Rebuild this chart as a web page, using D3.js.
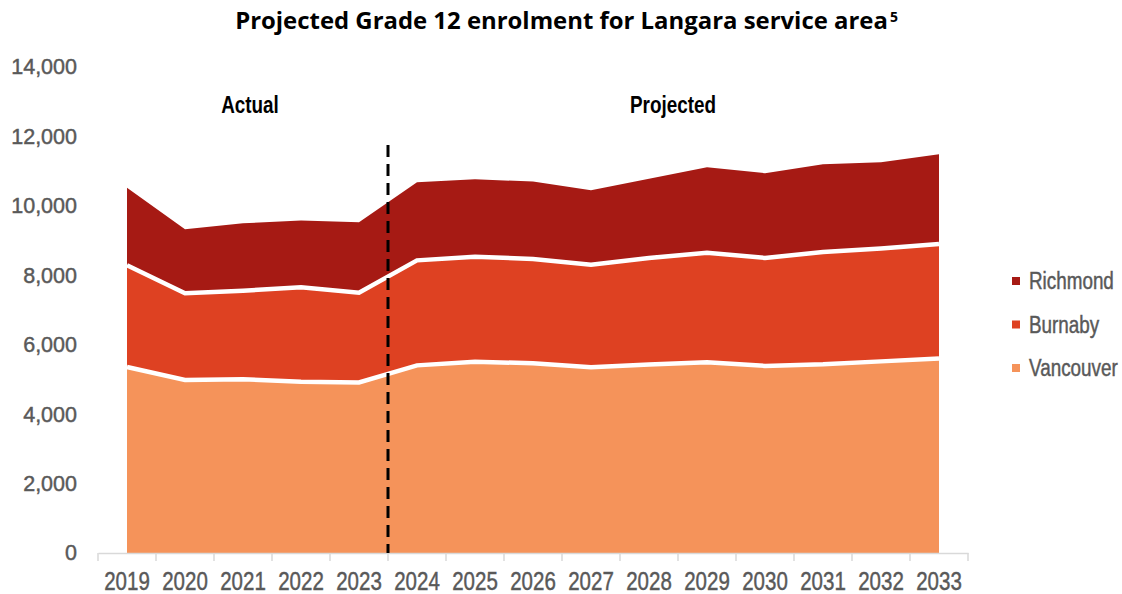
<!DOCTYPE html>
<html><head><meta charset="utf-8">
<script src="https://cdn.jsdelivr.net/npm/d3@7"></script>
<style>
body{margin:0;background:#fff;}
svg{display:block;}
</style></head>
<body>
<svg id="chart" width="1122" height="594"></svg>
<script>
const years = ["2019","2020","2021","2022","2023","2024","2025","2026","2027","2028","2029","2030","2031","2032","2033"];
const vancouver = [5360, 4985, 5005, 4935, 4915, 5405, 5510, 5465, 5350, 5430, 5495, 5390, 5435, 5520, 5600];
const burnaby   = [2930, 2495, 2550, 2720, 2585, 3025, 3025, 3005, 2955, 3070, 3155, 3110, 3235, 3255, 3300];
const richmond  = [2230, 1845, 1945, 1920, 2025, 2250, 2230, 2230, 2145, 2280, 2460, 2440, 2525, 2480, 2585];
const seriesNames = ["Vancouver","Burnaby","Richmond"];
const seriesColors = ["#F5935A","#DE4122","#A61A14"];
const yTicks = [0,2000,4000,6000,8000,10000,12000,14000];
const splitAfter = "2023";

const sans = "'Liberation Sans',Arial,sans-serif";
const titleFont = "'Open Sans',Roboto,sans-serif";
const NARROW = 0.82; // Arial Narrow ≈ Arial scaled horizontally
const svg = d3.select("#chart");

const rows = years.map((y,i)=>({year:y, Vancouver:vancouver[i], Burnaby:burnaby[i], Richmond:richmond[i]}));
const stack = d3.stack().keys(seriesNames)(rows);

const x = d3.scaleBand().domain(years).range([98,968]);
const xc = d => x(d) + x.bandwidth()/2;
const y = d3.scaleLinear().domain([0,14000]).range([553,67]);

// areas
const area = d3.area().x(d=>xc(d.data.year)).y0(d=>y(d[0])).y1(d=>y(d[1]));
svg.append("g").selectAll("path").data(stack).join("path")
  .attr("d", area).attr("fill",(d,i)=>seriesColors[i]);

// white separator lines on tops of lower layers
const line = d3.line().x(d=>xc(d.data.year)).y(d=>y(d[1]));
svg.append("g").selectAll("path").data(stack.slice(0,2)).join("path")
  .attr("d", line).attr("fill","none").attr("stroke","#fff").attr("stroke-width",4.5);

// x axis
const xAxis = svg.append("g").attr("transform","translate(0,553)")
  .call(d3.axisBottom(x).tickSize(0).tickPadding(0));
xAxis.select(".domain").attr("stroke","#d9d9d9").attr("stroke-width",1.5);
xAxis.selectAll("text").attr("dy",null).attr("y",37)
  .attr("transform",`scale(${NARROW},1)`)
  .attr("font-family",sans).attr("font-size",25).attr("fill","#595959")
  .attr("stroke","#595959").attr("stroke-width",0.45);
// boundary ticks
const bounds = years.map(d=>x(d)).concat([x.range()[1]]);
svg.append("g").selectAll("line").data(bounds).join("line")
  .attr("x1",d=>d).attr("x2",d=>d).attr("y1",553).attr("y2",561)
  .attr("stroke","#d9d9d9").attr("stroke-width",1.5);

// y axis labels
const yAxis = svg.append("g").attr("transform","translate(77,0)")
  .call(d3.axisLeft(y).tickValues(yTicks).tickSize(0).tickPadding(0).tickFormat(d3.format(",")));
yAxis.select(".domain").remove();
yAxis.selectAll("text").attr("font-family",sans).attr("font-size",21.5).attr("fill","#595959")
  .attr("stroke","#595959").attr("stroke-width",0.45);

// dashed divider
const divX = x(splitAfter) + x.bandwidth();
svg.append("line").attr("x1",divX).attr("x2",divX).attr("y1",y(11750)).attr("y2",553)
  .attr("stroke","#000").attr("stroke-width",3).attr("stroke-dasharray","12,7");

// Actual / Projected labels
function narrowText(tx, ty, str, size, weight, anchor, fill){
  return svg.append("text").attr("transform",`translate(${tx},${ty}) scale(${NARROW},1)`)
    .attr("text-anchor",anchor).attr("font-family",sans).attr("font-size",size)
    .attr("font-weight",weight).attr("fill",fill).text(str);
}
narrowText(250,113.3,"Actual",23,"bold","middle","#000");
narrowText(673,113.3,"Projected",23,"bold","middle","#000");

// title (fitted to the reference width)
const titleMain = svg.append("text").attr("text-anchor","middle")
  .attr("font-family",titleFont).attr("font-size",22.5).attr("font-weight","bold").attr("fill","#000")
  .text("Projected Grade 12 enrolment for Langara service area");
const tl = titleMain.node().getComputedTextLength();
const targetW = 653, tCx = 561.5;
const sx = targetW / tl;
titleMain.attr("transform",`translate(${tCx},28.5) scale(${sx},1)`);
svg.append("text").attr("x", tCx + targetW/2 + 2).attr("y",22)
  .attr("font-family",titleFont).attr("font-size",14).attr("font-weight","bold").attr("fill","#000")
  .text("5");

// legend
const legendItems = seriesNames.slice().reverse();
const lg = svg.append("g").selectAll("g").data(legendItems).join("g")
  .attr("transform",(d,i)=>`translate(1012,${281+i*43.5})`);
lg.append("rect").attr("x",0).attr("y",-4).attr("width",8).attr("height",8)
  .attr("fill",d=>seriesColors[seriesNames.indexOf(d)]);
lg.append("text").attr("transform",`translate(17,0) scale(${NARROW},1)`).attr("dy","0.36em")
  .attr("font-family",sans).attr("font-size",23).attr("fill","#595959")
  .attr("stroke","#595959").attr("stroke-width",0.45).text(d=>d);
</script>
</body></html>
